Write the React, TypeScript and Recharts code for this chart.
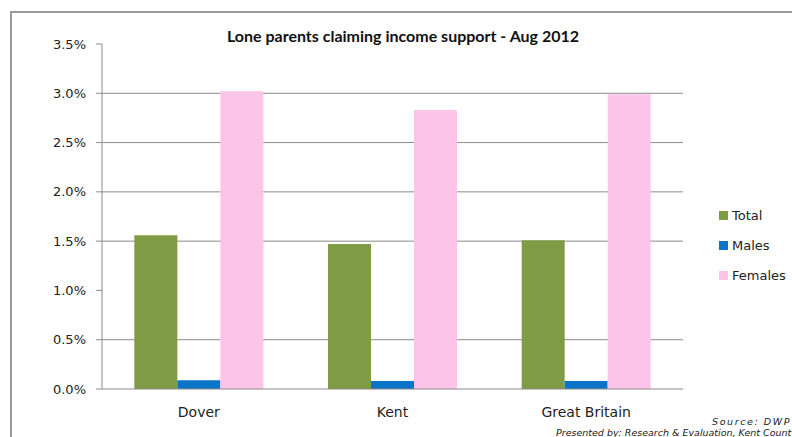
import React from 'react';
import { BarChart, Bar, XAxis, YAxis, CartesianGrid } from 'recharts';

const categories = ['Dover', 'Kent', 'Great Britain'];
const totalValues = [1.56, 1.47, 1.51];
const malesValues = [0.09, 0.08, 0.08];
const femalesValues = [3.02, 2.83, 2.99];
const yTicks = [0, 0.5, 1, 1.5, 2, 2.5, 3, 3.5];
const gridValues = [0.5, 1.5, 2, 2.5, 3];
const seriesKeys = ['total', 'males', 'females'];
const seriesNames = ['Total', 'Males', 'Females'];
const seriesColors = ['#7f9c45', '#0a74c8', '#fcc4e8'];
const title = 'Lone parents claiming income support - Aug 2012';
const sourceText = 'Source: DWP';
const presentedText = 'Presented by: Research & Evaluation, Kent County Council';

const data = categories.map((name, i) => ({
  name,
  pos: i + 0.5,
  total: totalValues[i],
  males: malesValues[i],
  females: femalesValues[i],
}));

const edgeTicks = [...categories.map((_, i) => i), categories.length];
const yMax = yTicks[yTicks.length - 1];

const axisColor = '#8a8a8a';
const textColor = '#222';

function gridGenerator(props: any) {
  const s = props && props.yAxis ? props.yAxis.scale : null;
  if (typeof s === 'function') return gridValues.map((v) => s(v));
  if (s && typeof s.map === 'function') return gridValues.map((v) => s.map(v));
  if (s && typeof s.scale === 'function') return gridValues.map((v) => s.scale(v));
  const off = props.offset;
  return gridValues.map((v) => off.top + off.height * (1 - v / yMax));
}

export default function App() {
  return (
    <div style={{ position: 'absolute', left: 0, top: 0, width: 792, height: 437, overflow: 'hidden', background: '#fff' }}>
      <div
        style={{
          position: 'absolute',
          left: 10,
          top: 11,
          width: 800,
          height: 440,
          borderTop: '2px solid #9a9a9a',
          borderLeft: '2px solid #9a9a9a',
        }}
      />
      <div
        style={{
          position: 'absolute',
          left: 0,
          width: 806,
          top: 26,
          textAlign: 'center',
          fontFamily: 'Lato, sans-serif',
          fontWeight: 700,
          fontSize: 16,
          color: '#111',
        }}
      >
        {title}
      </div>
      <div style={{ position: 'absolute', left: 0, top: 0 }}>
        <BarChart
          width={792}
          height={437}
          data={data}
          margin={{ top: 44, right: 109, left: 0, bottom: 18 }}
          barCategoryGap="16.7%"
          barGap={0}
        >
          <CartesianGrid
            xAxisId="cat"
            horizontal
            vertical={false}
            stroke={axisColor}
            horizontalCoordinatesGenerator={gridGenerator}
          />
          <XAxis
            xAxisId="edge"
            type="number"
            dataKey="pos"
            domain={[0, categories.length]}
            ticks={edgeTicks}
            height={0}
            axisLine={false}
            tickLine={{ stroke: '#bbb' }}
            tickSize={5}
            tickFormatter={() => ''}
            interval={0}
          />
          <XAxis
            xAxisId="cat"
            dataKey="name"
            height={30}
            axisLine={{ stroke: axisColor }}
            tickLine={false}
            tickMargin={12}
            tick={{ fill: textColor, fontSize: 14, fontFamily: 'DejaVu Sans, sans-serif' }}
            interval={0}
          />
          <YAxis
            width={102}
            domain={[0, yMax]}
            ticks={yTicks}
            interval={0}
            axisLine={{ stroke: axisColor }}
            tickLine={{ stroke: axisColor }}
            tickSize={6}
            tickMargin={10}
            tickFormatter={(v: number) => v.toFixed(1) + '%'}
            tick={{ fill: textColor, fontSize: 13, fontFamily: 'DejaVu Sans, sans-serif' }}
          />
          {seriesKeys.map((k, i) => (
            <Bar
              key={k}
              xAxisId="cat"
              dataKey={k}
              name={seriesNames[i]}
              fill={seriesColors[i]}
              isAnimationActive={false}
            />
          ))}
        </BarChart>
      </div>
      <div style={{ position: 'absolute', left: 719, top: 200, fontFamily: 'DejaVu Sans, sans-serif', fontSize: 13, color: textColor }}>
        {seriesNames.map((n, i) => (
          <div key={n} style={{ display: 'flex', alignItems: 'center', height: 30 }}>
            <span style={{ display: 'inline-block', width: 9, height: 9, background: seriesColors[i], marginRight: 4 }} />
            <span>{n}</span>
          </div>
        ))}
      </div>
      <div
        style={{
          position: 'absolute',
          left: 712,
          top: 416,
          fontFamily: 'DejaVu Sans, sans-serif',
          fontStyle: 'italic',
          fontSize: 9.5,
          letterSpacing: 1.6,
          lineHeight: '11px',
          color: '#222',
          whiteSpace: 'nowrap',
        }}
      >
        {sourceText}
      </div>
      <div
        style={{
          position: 'absolute',
          left: 556,
          top: 427,
          fontFamily: 'DejaVu Sans, sans-serif',
          fontStyle: 'italic',
          fontSize: 9.5,
          lineHeight: '11px',
          color: '#222',
          whiteSpace: 'nowrap',
        }}
      >
        {presentedText}
      </div>
    </div>
  );
}
